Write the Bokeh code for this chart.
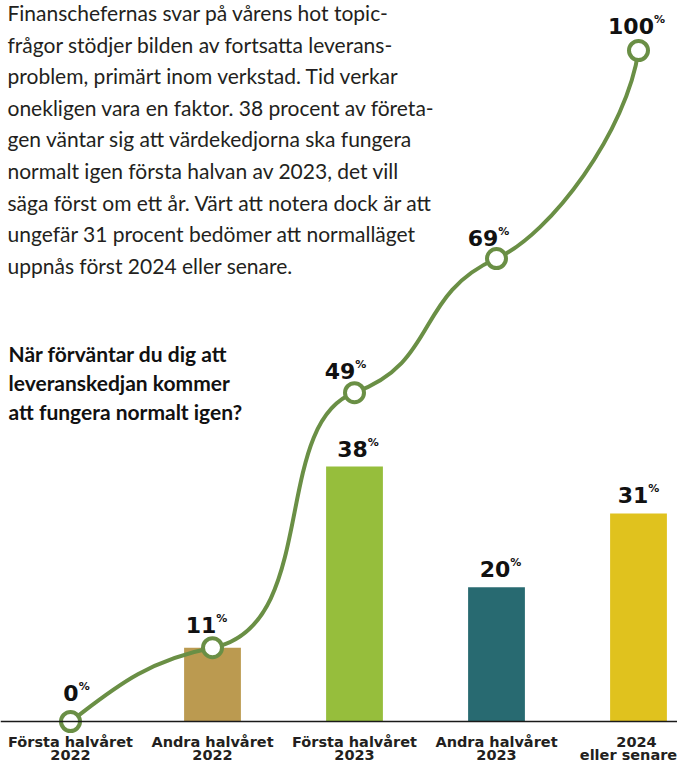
import numpy as np
from bokeh.plotting import figure
from bokeh.models import ColumnDataSource, Span, Range1d
from bokeh.core.properties import value
from bokeh.embed import file_html
from bokeh.resources import INLINE

# ---------------- data ----------------
cat_line1 = ["Första halvåret", "Andra halvåret", "Första halvåret", "Andra halvåret", "2024"]
cat_line2 = ["2022", "2022", "2023", "2023", "eller senare"]
shares = [0, 11, 38, 20, 31]            # percent answering each period
cumulative = list(np.cumsum(shares))    # 0, 11, 49, 69, 100

paragraph = [
    "Finanschefernas svar på vårens hot topic-",
    "frågor stödjer bilden av fortsatta leverans-",
    "problem, primärt inom verkstad. Tid verkar",
    "onekligen vara en faktor. 38 procent av företa-",
    "gen väntar sig att värdekedjorna ska fungera",
    "normalt igen första halvan av 2023, det vill",
    "säga först om ett år. Värt att notera dock är att",
    "ungefär 31 procent bedömer att normalläget",
    "uppnås först 2024 eller senare.",
]
question = [
    "När förväntar du dig att",
    "leveranskedjan kommer",
    "att fungera normalt igen?",
]

# ---------------- styles ----------------
bar_colors = ["#BB9A50", "#BB9A50", "#96BE3C", "#286A71", "#E0C21E"]
line_color = "#6A8F45"
text_color = "#231F20"
FONT = "Lato"
NUM_FONT = "DejaVu Sans"
CAT_FONT = "DejaVu Sans"

W, H = 677, 761
PX_X = 142.0        # pixels per category
PX_Y = 6.71         # pixels per percent
X0 = 70.0           # canvas x of first category
BASE = 721.0        # canvas y (from top) of the zero line
TFIX = -8           # text baseline correction (px)

# curve styling: tangent angle at each point (deg, screen space) and handle lengths (px)
tangent_deg = [37, 11, 20, 24, 82]
handles = [(50, 70), (110, 90), (90, 90), (60, 80)]

# label nudges (px)
cum_dx = [6, -6, -9, -8, -2]
cum_dy = [-21, -15, -14, -13, -17]
bar_dx = [0, 0, 3.5, 4, 0]
cat_dx1 = [0, 0, 0, 0, -2]
cat_dx2 = [0, 0, 0, 0, -10]
DIGIT_W, PCT_W = 15.3, 11.0

x_start, x_end = -X0 / PX_X, (W - X0) / PX_X
y_start, y_end = -(H - BASE) / PX_Y, BASE / PX_Y
p = figure(width=W, height=H, output_backend="svg", toolbar_location=None,
           x_range=Range1d(x_start, x_end), y_range=Range1d(y_start, y_end),
           min_border=0, background_fill_color="white", border_fill_color="white")
p.axis.visible = False
p.grid.visible = False
p.outline_line_color = None

idx = list(range(len(shares)))

# bars
p.vbar(x=idx, top=shares, bottom=0, width=0.40, fill_color=bar_colors, line_color=None)

# baseline
p.add_layout(Span(location=0, dimension="width", line_color="#1A1A1A", line_width=1.5))

# smooth cumulative curve as cubic bezier segments
ang = np.radians(tangent_deg)
x0s, y0s, x1s, y1s, cx0, cy0, cx1, cy1 = [], [], [], [], [], [], [], []
for k in range(len(idx) - 1):
    h0, h1 = handles[k]
    x0s.append(idx[k]); y0s.append(cumulative[k])
    x1s.append(idx[k + 1]); y1s.append(cumulative[k + 1])
    cx0.append(idx[k] + h0 * np.cos(ang[k]) / PX_X)
    cy0.append(cumulative[k] + h0 * np.sin(ang[k]) / PX_Y)
    cx1.append(idx[k + 1] - h1 * np.cos(ang[k + 1]) / PX_X)
    cy1.append(cumulative[k + 1] - h1 * np.sin(ang[k + 1]) / PX_Y)
p.bezier(x0=x0s, y0=y0s, x1=x1s, y1=y1s, cx0=cx0, cy0=cy0, cx1=cx1, cy1=cy1,
         line_color=line_color, line_width=4, line_cap="round")

p.scatter(idx, cumulative, size=19, fill_color="white", line_color=line_color, line_width=4)

# value labels
def add_value_labels(xs, ys, vals, dxs, dys):
    num_w = [len(str(int(v))) * DIGIT_W for v in vals]
    src = ColumnDataSource(dict(
        x=xs, y=ys, t=[str(int(v)) for v in vals],
        xo=[(nw - PCT_W) / 2 + dx for nw, dx in zip(num_w, dxs)],
        xp=[(nw - PCT_W) / 2 + dx for nw, dx in zip(num_w, dxs)],
        yo=[d + TFIX for d in dys], yp=[d + TFIX - 6.5 for d in dys], pct=["%"] * len(vals)))
    p.text(x="x", y="y", text="t", x_offset="xo", y_offset="yo", source=src,
           text_font=value(NUM_FONT), text_font_style="bold", text_font_size="22px",
           text_color="#111111", text_align="right", text_baseline="alphabetic")
    p.text(x="x", y="y", text="pct", x_offset="xp", y_offset="yp", source=src,
           text_font=value(NUM_FONT), text_font_style="bold", text_font_size="11px",
           text_color="#111111", text_align="left", text_baseline="alphabetic")

add_value_labels(idx, cumulative, cumulative, cum_dx, cum_dy)
bar_sel = [i for i in idx if shares[i] != cumulative[i]]
add_value_labels(bar_sel, [shares[i] for i in bar_sel], [shares[i] for i in bar_sel],
                 [bar_dx[i] for i in bar_sel], [-10] * len(bar_sel))

# category labels
cat_src = ColumnDataSource(dict(x=idx, y=[0] * len(idx), l1=cat_line1, l2=cat_line2,
                                dx1=cat_dx1, dx2=cat_dx2))
for col, dx, off in (("l1", "dx1", 28), ("l2", "dx2", 41)):
    p.text(x="x", y="y", text=col, x_offset=dx, y_offset=off + TFIX, source=cat_src,
           text_font=value(CAT_FONT), text_font_style="bold", text_font_size="14.5px",
           text_color=text_color, text_align="center", text_baseline="alphabetic")

# paragraph text (anchored at the top-left corner, offsets in px)
par_src = ColumnDataSource(dict(
    x=[x_start] * len(paragraph), y=[y_end] * len(paragraph), t=paragraph,
    yo=[20 + TFIX + 31.6 * i for i in range(len(paragraph))]))
p.text(x="x", y="y", text="t", x_offset=7, y_offset="yo", source=par_src,
       text_font=value(FONT), text_font_size="21px", text_color=text_color,
       text_align="left", text_baseline="alphabetic")

q_src = ColumnDataSource(dict(
    x=[x_start] * len(question), y=[y_end] * len(question), t=question,
    yo=[361 + TFIX + 29 * i for i in range(len(question))]))
p.text(x="x", y="y", text="t", x_offset=8, y_offset="yo", source=q_src,
       text_font=value(FONT), text_font_style="bold", text_font_size="21px",
       text_color="#111111", text_align="left", text_baseline="alphabetic")

open("out.html", "w").write(file_html(p, INLINE))
